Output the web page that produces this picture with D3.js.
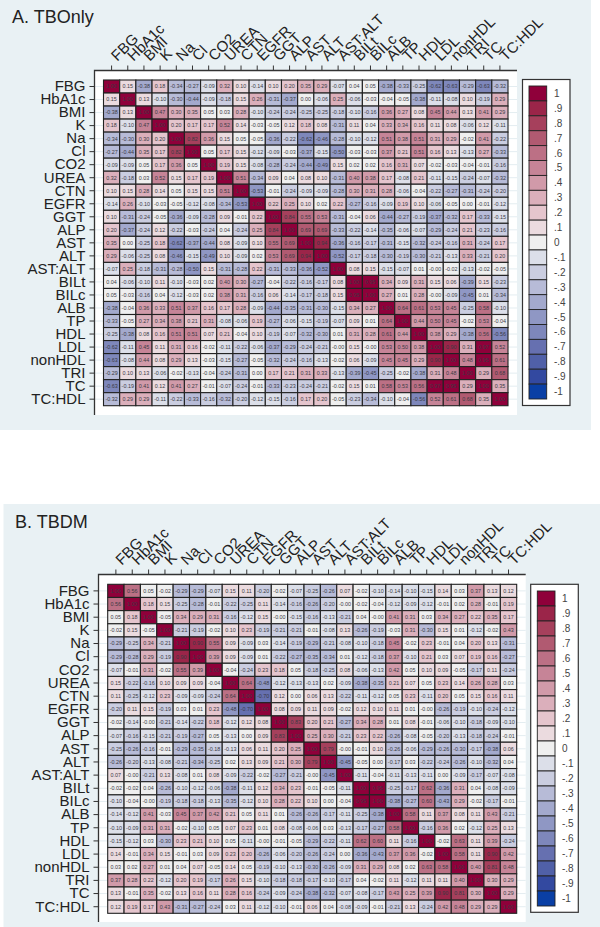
<!DOCTYPE html>
<html>
<head>
<meta charset="utf-8">
<script src="https://cdn.jsdelivr.net/npm/d3@7"></script>
<style>
  html, body { margin: 0; padding: 0; background: #fff; }
  svg { display: block; font-family: "Liberation Sans", Arial, sans-serif; }
</style>
</head>
<body>
<svg id="chart" width="600" height="927"></svg>
<script>
// Biomarker names, shared by both correlation matrices
const markers = ["FBG","HbA1c","BMI","K","Na","Cl","CO2","UREA","CTN","EGFR","GGT","ALP","AST","ALT",
  "AST:ALT","BILt","BILc","ALB","TP","HDL","LDL","nonHDL","TRI","TC","TC:HDL"];

// Upper triangles of the correlation matrices, diagonal first in each row.
// -0.001 stands for coefficients printed as -0.00.
const tbOnly = [
  [1,.15,-.38,.18,-.34,-.27,-.09,.32,.10,-.14,.10,.20,.35,.29,-.07,.04,.05,-.38,-.33,-.25,-.62,-.63,-.29,-.63,-.32],
  [1,.13,-.10,-.30,-.44,-.09,-.18,.15,.26,-.31,-.37,0,-.06,.25,-.06,-.03,-.04,-.05,-.38,-.11,-.08,.10,-.19,.29],
  [1,.47,.30,.35,.05,.03,.28,-.10,-.24,-.24,-.25,-.25,-.18,-.10,-.16,.36,.27,.08,.45,.44,.13,.41,.29],
  [1,.20,.17,.17,.52,.14,-.03,-.05,.12,.18,.08,-.31,.11,.04,.33,.34,.16,.11,.08,-.06,.12,-.11],
  [1,.82,.36,.15,.05,-.05,-.36,-.22,-.62,-.46,-.28,-.10,-.12,.51,.38,.51,.31,.29,-.02,.41,-.22],
  [1,.05,.17,.15,-.12,-.09,-.03,-.37,-.15,-.50,-.03,-.03,.37,.21,.51,.16,.13,-.13,.27,-.33],
  [1,.19,.15,-.08,-.28,-.24,-.44,-.49,.15,.02,.02,.16,.31,.07,-.02,-.03,-.04,-.01,-.16],
  [1,.51,-.34,.09,.04,.08,.10,-.31,.40,.38,.17,-.08,.21,-.11,-.15,-.24,-.07,-.32],
  [1,-.53,-.01,-.24,-.09,-.09,-.28,.30,.31,.28,-.06,-.04,-.22,-.27,-.31,-.24,-.20],
  [1,.22,.25,.10,.02,.22,-.27,-.16,-.09,.19,.10,-.06,-.05,0,-.01,-.12],
  [1,.84,.55,.53,-.31,-.04,.06,-.44,-.27,-.19,-.37,-.32,.17,-.33,-.15],
  [1,.69,.69,-.33,-.22,-.14,-.35,-.06,-.07,-.29,-.24,.21,-.23,-.16],
  [1,.94,-.36,-.16,-.17,-.31,-.15,-.32,-.24,-.16,.31,-.24,.17],
  [1,-.52,-.17,-.18,-.30,-.19,-.30,-.21,-.13,.33,-.21,.20],
  [1,.08,.15,-.15,-.07,.01,-.001,-.02,-.13,-.02,-.05],
  [1,.95,.34,.09,.31,.15,.06,-.39,.15,-.23],
  [1,.27,.01,.28,-.001,-.09,-.45,.01,-.34],
  [1,.64,.61,.53,.45,-.25,.58,-.10],
  [1,.44,.50,.45,-.02,.53,-.04],
  [1,.38,.29,-.38,.56,-.56],
  [1,.90,.31,.97,.52],
  [1,.48,.95,.61],
  [1,.29,.68],
  [1,.35],
  [1]
];

const tbDm = [
  [1,.56,.05,-.02,-.29,-.29,-.07,.15,.11,-.20,-.02,-.07,-.25,-.26,.07,-.02,-.10,-.14,-.10,-.15,.14,.03,.37,.13,.12],
  [1,.18,.15,-.25,-.28,-.01,-.22,-.25,.11,-.14,-.16,-.26,-.20,-.001,-.02,-.04,-.12,-.09,-.12,-.01,.02,.28,-.01,.19],
  [1,-.05,.34,.29,.31,-.16,-.12,.15,-.001,-.15,-.16,-.13,-.21,.04,-.001,.41,.31,.03,.34,.27,.22,.35,.17],
  [1,-.21,-.19,-.02,.10,.23,-.19,-.21,-.21,-.01,-.08,.13,-.26,-.19,-.03,.31,-.30,.15,.01,-.12,-.02,.43],
  [1,.90,.55,.09,-.09,.03,-.14,-.19,-.29,-.21,-.08,-.10,-.18,.45,-.02,.23,-.01,.04,.20,.13,-.31],
  [1,.39,.09,-.09,.01,-.22,-.27,-.35,-.34,.01,-.12,-.18,.37,-.10,.21,.03,.07,.19,.16,-.27],
  [1,-.04,-.24,.23,.18,.05,-.18,-.25,.08,-.06,-.13,.42,.05,.10,.09,-.05,-.17,.11,-.24],
  [1,.64,-.48,-.12,-.13,-.13,.02,-.09,-.38,-.35,.21,.07,.05,.23,.14,.26,.28,.03],
  [1,-.70,.12,0,.06,.13,-.22,-.11,-.12,.05,.23,-.11,.20,.05,.15,.16,.11],
  [1,.08,.09,.11,.09,-.02,.12,.10,.11,.01,-.001,-.26,-.19,-.10,-.24,-.12],
  [1,.83,.20,.21,-.27,.34,.28,.01,.08,-.01,-.06,-.10,-.18,-.09,-.10],
  [1,.25,.30,-.21,.23,.22,-.26,-.08,-.05,-.20,-.13,-.18,-.24,-.01],
  [1,.79,-.001,-.01,.10,-.26,-.06,-.29,-.26,-.30,-.17,-.38,.06],
  [1,-.45,-.05,0,-.17,.03,-.22,-.24,-.26,-.10,-.32,.04],
  [1,-.11,-.04,-.11,-.13,-.11,0,-.09,-.17,-.07,-.08],
  [1,.95,-.25,-.17,.62,-.36,.31,.04,-.08,-.09],
  [1,-.38,-.27,.60,-.43,.29,-.02,-.17,-.01],
  [1,.58,.11,.37,.08,.11,.43,-.21],
  [1,-.16,.36,.02,-.12,.25,.13],
  [1,-.02,.63,.11,.39,-.24],
  [1,.58,.11,.90,.42],
  [1,.40,.81,.48],
  [1,.30,.29],
  [1,.29],
  [1]
];

// Colour key: one swatch per tenth, from 1 down to -1
const legendTicks = [1,.9,.8,.7,.6,.5,.4,.3,.2,.1,0,-.1,-.2,-.3,-.4,-.5,-.6,-.7,-.8,-.9,-1];
const legendColours = ["#8f003a","#9b2549","#a6405c","#b15a71","#bc7085","#c68497","#d19aa9","#dbafbb",
  "#e5c5cd","#ebdbdf","#efefef","#dcdfe9","#cacde0","#b7bbd7","#a3a9cd","#8f97c4","#7e87bb","#6670b0",
  "#5060a8","#3349a0","#0a3fa5"];

const colour = d3.scaleQuantize()
  .domain([-1.05, 1.05])
  .range(legendColours.slice().reverse());

const legendLabel = v => v === 0 ? "0" : (v === 1 || v === -1) ? String(v)
  : (v < 0 ? "-" : "") + String(Math.abs(v)).replace(/^0/, "");

// Expands an upper triangle into the full list of symmetric cells
function cellsFrom(triangle) {
  const cells = [];
  triangle.forEach((row, i) => row.forEach((v, k) => {
    const j = i + k;
    cells.push({ row: markers[i], col: markers[j], v });
    if (k > 0) cells.push({ row: markers[j], col: markers[i], v });
  }));
  return cells;
}

const svg = d3.select("#chart");

function drawPanel(cfg) {
  const g = svg.append("g");

  g.append("rect").attr("x", cfg.bg[0]).attr("y", cfg.bg[1])
    .attr("width", cfg.bg[2] - cfg.bg[0]).attr("height", cfg.bg[3] - cfg.bg[1])
    .attr("fill", "#e9f1f4");

  g.append("text").attr("x", cfg.titleX).attr("y", cfg.titleY)
    .attr("font-size", 18).attr("fill", "#222").text(cfg.title);

  const { left, top, right, bottom } = cfg.plot;
  g.append("rect").attr("x", left).attr("y", top)
    .attr("width", right - left).attr("height", bottom - top).attr("fill", "#fff");

  const x = d3.scaleBand().domain(markers).range(cfg.cellsX);
  const y = d3.scaleBand().domain(markers).range(cfg.cellsY);

  // Faint row guides running behind the matrix
  g.append("g").selectAll("line").data(markers).join("line")
    .attr("x1", left).attr("x2", right)
    .attr("y1", d => y(d) + y.bandwidth() / 2)
    .attr("y2", d => y(d) + y.bandwidth() / 2)
    .attr("stroke", "#e4edf1").attr("stroke-width", 1);

  const cells = cellsFrom(cfg.values);
  const cell = g.append("g").selectAll("g").data(cells).join("g")
    .attr("transform", d => `translate(${x(d.col)},${y(d.row)})`);
  cell.append("rect")
    .attr("width", x.bandwidth()).attr("height", y.bandwidth())
    .attr("fill", d => colour(d.v))
    .attr("stroke", "#222").attr("stroke-width", 1.1);
  cell.append("text")
    .attr("x", x.bandwidth() / 2).attr("y", y.bandwidth() / 2)
    .attr("dy", "0.35em").attr("text-anchor", "middle")
    .attr("font-size", 5.4).attr("fill", "#3a3a44")
    .text(d => d.v.toFixed(2));

  // Axes sit on the frame, detached from the cells
  const axisL = g.append("g").attr("transform", `translate(${left},0)`)
    .call(d3.axisLeft(y).tickSize(5).tickPadding(4));
  axisL.select(".domain").remove();
  axisL.selectAll("text").attr("font-size", 15).attr("font-family", "inherit").attr("fill", "#222");
  axisL.selectAll("line").attr("stroke", "#333");

  const axisT = g.append("g").attr("transform", `translate(0,${top})`)
    .call(d3.axisTop(x).tickSize(5).tickPadding(3));
  axisT.select(".domain").remove();
  axisT.selectAll("text")
    .attr("font-size", 15).attr("font-family", "inherit").attr("fill", "#222")
    .attr("text-anchor", "start").attr("dy", "0.35em")
    .attr("transform", "translate(-1.5,-9) rotate(-45)")
    .attr("y", 0).attr("x", 5);
  axisT.selectAll("line").attr("stroke", "#333");

  g.append("path")
    .attr("d", `M${left},${bottom}V${top}H${right}`)
    .attr("fill", "none").attr("stroke", "#333").attr("stroke-width", 1.3);

  // Colour key
  const k = cfg.key;
  g.append("rect").attr("x", k.left).attr("y", k.top)
    .attr("width", k.right - k.left).attr("height", k.bottom - k.top)
    .attr("fill", "#fff").attr("stroke", "#333").attr("stroke-width", 1.2);
  const ky = d3.scaleBand().domain(legendTicks).range([k.swatchTop, k.swatchBottom]);
  const item = g.append("g").selectAll("g").data(legendTicks).join("g")
    .attr("transform", d => `translate(${k.swatchLeft},${ky(d)})`);
  item.append("rect")
    .attr("width", k.swatchRight - k.swatchLeft).attr("height", ky.bandwidth())
    .attr("fill", d => colour(d)).attr("stroke", "#222").attr("stroke-width", 0.9);
  item.append("text")
    .attr("x", k.labelX - k.swatchLeft).attr("y", ky.bandwidth() / 2).attr("dy", "0.35em")
    .attr("font-size", 10).attr("fill", "#444")
    .text(legendLabel);
}

drawPanel({
  title: "A. TBOnly", titleX: 12, titleY: 23,
  bg: [0, 0, 591, 430],
  plot: { left: 94.5, top: 70.5, right: 517, bottom: 415 },
  cellsX: [103.5, 508], cellsY: [80, 405.7],
  values: tbOnly,
  key: { left: 522.5, right: 570, top: 79.5, bottom: 405.5,
         swatchLeft: 529, swatchRight: 546.7, swatchTop: 86, swatchBottom: 399, labelX: 554 }
});

drawPanel({
  title: "B. TBDM", titleX: 15, titleY: 528,
  bg: [3.5, 504, 600, 927],
  plot: { left: 98.5, top: 574.5, right: 525.7, bottom: 922 },
  cellsX: [107.7, 516.7], cellsY: [584.3, 913.3],
  values: tbDm,
  key: { left: 530.7, right: 578.3, top: 584.3, bottom: 912.3,
         swatchLeft: 537.3, swatchRight: 555, swatchTop: 591, swatchBottom: 906, labelX: 562 }
});
</script>
</body>
</html>
